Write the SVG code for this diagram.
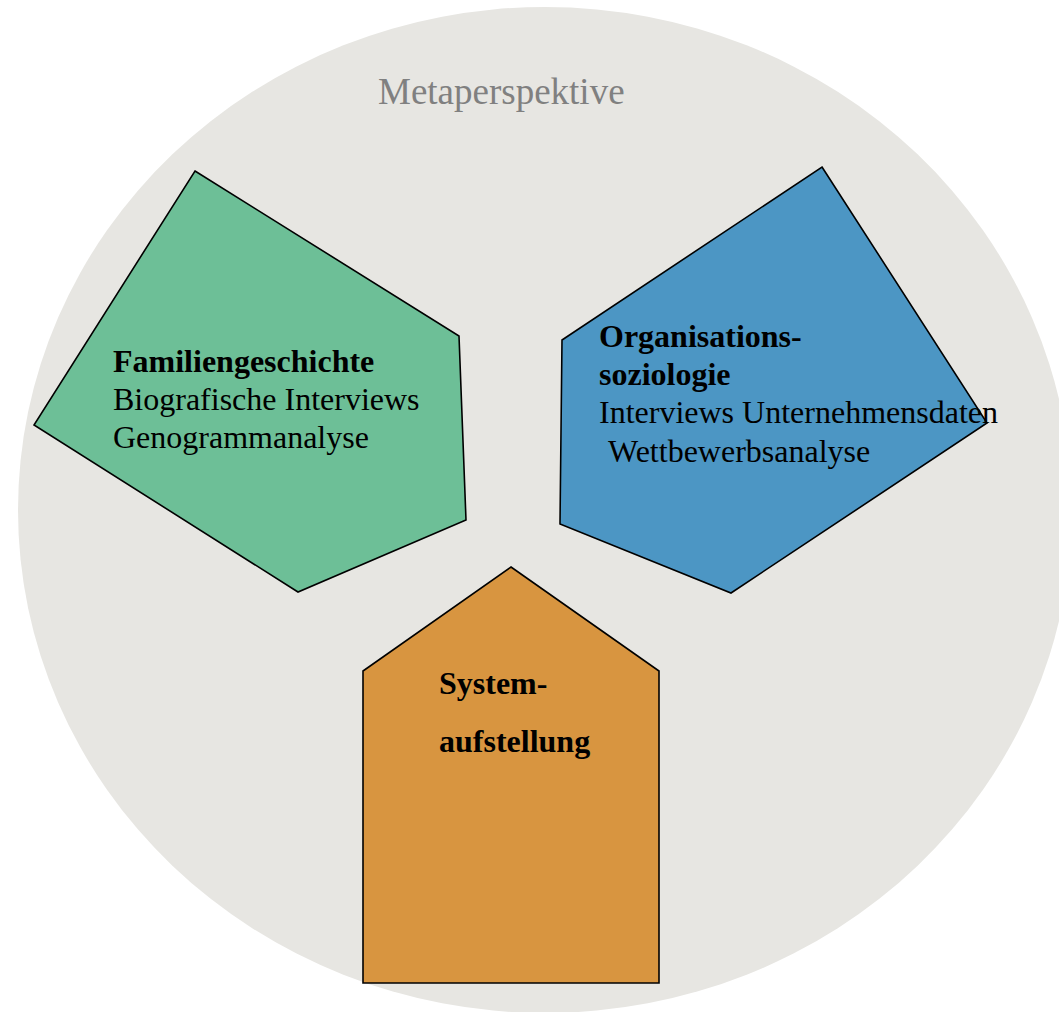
<svg xmlns="http://www.w3.org/2000/svg" width="1059" height="1012" viewBox="0 0 1059 1012">
  <style>
    .node { stroke: #000; stroke-width: 1.6; stroke-linejoin: miter; }
    .t { font-family: "Liberation Serif", "Times New Roman", serif; font-size: 32px; fill: #000; }
    .b { font-weight: bold; }
    .meta { font-family: "Liberation Serif", "Times New Roman", serif; font-size: 37px; fill: #808080; }
  </style>
  <rect x="0" y="0" width="1059" height="1012" fill="#ffffff"/>
  <g id="metaperspektive">
    <ellipse cx="545" cy="510" rx="527" ry="503" fill="#E7E6E2"/>
    <text class="meta" x="378" y="104">Metaperspektive</text>
  </g>
  <g id="connectors"></g>
  <g id="familiengeschichte">
    <polygon class="node" fill="#6DBF97" points="195,171 459,336 466,520 298,592 34,425"/>
    <text class="t b" x="113" y="372">Familiengeschichte</text>
    <text class="t" x="113" y="410">Biografische Interviews</text>
    <text class="t" x="113" y="448">Genogrammanalyse</text>
  </g>
  <g id="organisationssoziologie">
    <polygon class="node" fill="#4C96C4" points="822,167 987,423 731,593 560,524 562,340"/>
    <text class="t b" x="599" y="347">Organisations-</text>
    <text class="t b" x="599" y="385">soziologie</text>
    <text class="t" x="599" y="423">Interviews Unternehmensdaten</text>
    <text class="t" x="608" y="462">Wettbewerbsanalyse</text>
  </g>
  <g id="systemaufstellung">
    <polygon class="node" fill="#D89540" points="511,567 659,671 659,983 363,983 363,671"/>
    <text class="t b" x="439" y="694">System-</text>
    <text class="t b" x="439" y="752">aufstellung</text>
  </g>
</svg>
